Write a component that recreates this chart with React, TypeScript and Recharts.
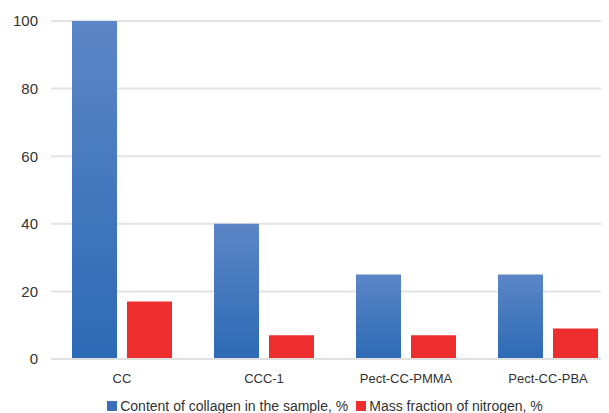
import React from "react";
import { BarChart, Bar, XAxis, YAxis, CartesianGrid } from "recharts";

const categories = ["CC", "CCC-1", "Pect-CC-PMMA", "Pect-CC-PBA"];
const collagenContent = [100, 40, 25, 25];
const nitrogenFraction = [17, 7, 7, 9];
const yTicks = [0, 20, 40, 60, 80, 100];
const seriesNames = ["Content of collagen in the sample, %", "Mass fraction of nitrogen, %"];
const seriesColors = ["#3D6EBB", "#EE2E2E"];

const data = categories.map((c, i) => ({
  name: c,
  collagen: collagenContent[i],
  nitrogen: nitrogenFraction[i],
}));

const FONT = "'Liberation Sans', Arial, sans-serif";

export default function App() {
  return (
    <div
      style={{
        marginTop: -8,
        marginLeft: -8,
        width: 609,
        height: 413,
        overflow: "hidden",
        background: "#fff",
        position: "relative",
      }}
    >
      <BarChart
        width={620}
        height={413}
        data={data}
        margin={{ top: 21, right: 1, bottom: 24, left: 1 }}
        barCategoryGap={21}
        barGap={10}
      >
        <defs>
          <linearGradient id="blueGrad" x1="0" y1="0" x2="0" y2="1">
            <stop offset="0%" stopColor="#5B86C7" />
            <stop offset="100%" stopColor="#2D6AB5" />
          </linearGradient>
        </defs>
        <CartesianGrid vertical={false} stroke="#E3E3E3" strokeWidth={2} />
        <XAxis
          dataKey="name"
          axisLine={{ stroke: "#E0E0E0", strokeWidth: 2 }}
          tickLine={false}
          tick={{ fill: "#333", fontSize: 13, fontFamily: FONT }}
          tickMargin={9}
          height={30}
        />
        <YAxis
          domain={[0, 100]}
          ticks={yTicks}
          axisLine={false}
          tickLine={false}
          tickSize={0}
          tickMargin={13}
          width={50}
          tick={{ fill: "#333", fontSize: 15, fontFamily: FONT }}
        />
        <Bar dataKey="collagen" name={seriesNames[0]} fill="url(#blueGrad)" isAnimationActive={false} />
        <Bar dataKey="nitrogen" name={seriesNames[1]} fill="#EE2E2E" isAnimationActive={false} />
      </BarChart>
      <div
        style={{
          position: "absolute",
          top: 398,
          left: 0,
          width: 650,
          display: "flex",
          justifyContent: "center",
          fontFamily: FONT,
          fontSize: 14,
          lineHeight: "16px",
          color: "#333",
          whiteSpace: "nowrap",
        }}
      >
        {seriesNames.map((n, i) => (
          <span key={n} style={{ display: "flex", alignItems: "center", marginRight: i === 0 ? 8 : 0 }}>
            <span style={{ width: 10, height: 10, background: seriesColors[i], display: "inline-block", marginRight: 3 }} />
            {n}
          </span>
        ))}
      </div>
    </div>
  );
}
